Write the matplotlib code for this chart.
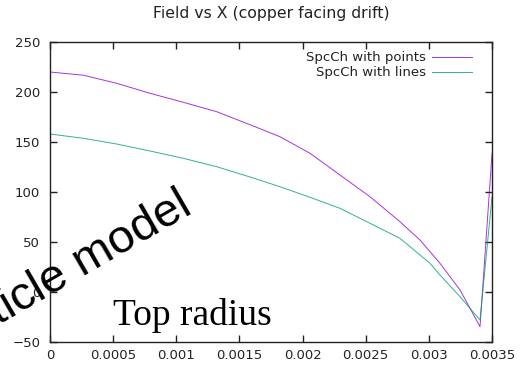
import numpy as np
import matplotlib
matplotlib.use('Agg')
import matplotlib.pyplot as plt

# field profile along x (copper facing drift)
x_pos = [0, 0.000264, 0.000528, 0.000792, 0.001056, 0.00132, 0.001584,
         0.001821, 0.002059, 0.002296, 0.002534, 0.002771, 0.00293,
         0.003009, 0.003088, 0.003247, 0.003405, 0.0035]
field_points = [220, 216.8, 208.7, 198.7, 189.7, 180.3, 167.3,
                155.3, 138.7, 117, 95.3, 70.3, 52,
                40.3, 28.7, 2, -34.7, 138]
field_lines = [158, 153.7, 148, 141, 133.7, 125.3, 115,
               105.3, 94.7, 83.7, 68.7, 53.7, 37,
               28.7, 17, -4.7, -28, 95]

x_ticks = [0, 0.0005, 0.001, 0.0015, 0.002, 0.0025, 0.003, 0.0035]
x_ticklabels = ['0', '0.0005', '0.001', '0.0015', '0.002', '0.0025', '0.003', '0.0035']
y_ticks = [-50, 0, 50, 100, 150, 200, 250]

plt.rcParams['font.family'] = ['DejaVu Sans']

fig = plt.figure(figsize=(5.21, 3.69), dpi=100)
ax = fig.add_axes([50 / 521, 1 - 342 / 369, 442 / 521, 300 / 369])

ax.plot(x_pos, field_points, color='#9400d3', lw=0.7, alpha=0.8,
        label='SpcCh with points')
ax.plot(x_pos, field_lines, color='#009e73', lw=0.7, alpha=0.8,
        label='SpcCh with lines')

ax.set_xlim(0, 0.0035)
ax.set_ylim(-50, 250)
ax.set_xticks(x_ticks)
ax.set_xticklabels(x_ticklabels)
ax.set_yticks(y_ticks)
ax.tick_params(direction='in', length=5, width=1, top=True, right=True,
               labelsize=9.5, colors='#222222')
ax.tick_params(axis='x', pad=5)
ax.tick_params(axis='y', pad=7)
for sp in ax.spines.values():
    sp.set_linewidth(1)
    sp.set_color('#222222')

ax.set_title('Field vs X (copper facing drift)', fontsize=11.3, pad=17,
             color='#222222')

leg = ax.legend(loc='upper right', frameon=False, markerfirst=False, fontsize=9.5,
                handlelength=3.0, handletextpad=0.5, labelspacing=0.15,
                borderaxespad=0.3, bbox_to_anchor=(0.975, 1.0))
for t in leg.get_texts():
    t.set_ha('right')
    t.set_color('#222222')

fig.text(113 / 521, 1 - 325 / 369, 'Top radius', family='Liberation Serif',
         fontsize=27, ha='left', va='baseline')
fig.text(194 / 521, 1 - 213 / 369, 'Particle model', family='Liberation Sans',
         fontsize=34, ha='right', va='baseline', rotation=30,
         rotation_mode='anchor')

fig.savefig('out.png', dpi=100)
